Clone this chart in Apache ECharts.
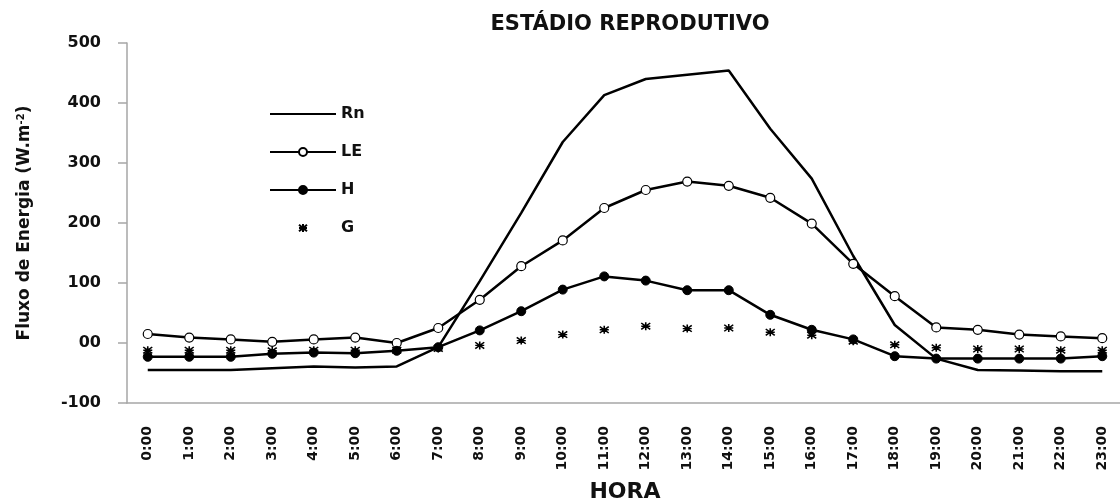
<!DOCTYPE html>
<html>
<head>
<meta charset="utf-8">
<script src="https://cdn.jsdelivr.net/npm/echarts@6/dist/echarts.min.js"></script>
<style>html,body{margin:0;padding:0;background:#fff}#c{width:1120px;height:503px}</style>
</head>
<body>
<div id="c"></div>
<script>
var hours = ['0:00','1:00','2:00','3:00','4:00','5:00','6:00','7:00','8:00','9:00','10:00','11:00','12:00','13:00','14:00','15:00','16:00','17:00','18:00','19:00','20:00','21:00','22:00','23:00'];
var Rn = [-45,-45,-45,-42,-39,-41,-39,-7,103,217,335,413,440,447,454,357,274,145,30,-26,-45,-46,-47,-47];
var LE = [15,9,6,2,6,9,0,25,72,128,171,225,255,269,262,242,199,132,78,26,22,14,11,8];
var H = [-23,-23,-23,-18,-16,-17,-13,-7,21,53,89,111,104,88,88,47,22,6,-22,-26,-26,-26,-26,-22];
var G = [-12,-12,-12,-13,-12,-12,-12,-9,-4,4,14,22,28,24,25,18,13,3,-3,-8,-10,-10,-12,-12];
var yTicks = {'500':'500','400':'400','300':'300','200':'200','100':'100','0':'00','-100':'-100'};

var FONT = 'DejaVu Sans';
var star = 'path://M0,-5L0,5M-5,-4L5,4M-5,4L5,-4M-5,0L5,0';
var chart = echarts.init(document.getElementById('c'));
chart.setOption({
  animation: false,
  backgroundColor: '#fff',
  textStyle: {fontFamily: FONT},
  title: {
    text: 'ESTÁDIO REPRODUTIVO',
    left: 625, textAlign: 'center', top: 9,
    textStyle: {fontFamily: FONT, fontWeight: 'bold', fontSize: 21, color: '#111'}
  },
  legend: {
    orient: 'vertical', left: 264, top: 101,
    itemWidth: 66, itemHeight: 10, itemGap: 22,
    textStyle: {fontFamily: FONT, fontWeight: 'bold', fontSize: 16, color: '#111'},
    data: [{name: 'Rn', itemStyle: {opacity: 0}}, 'LE', 'H', 'G']
  },
  grid: {left: 127, right: -3, top: 43, bottom: 100, outerBoundsMode: 'none', containLabel: false},
  xAxis: {
    type: 'category', data: hours, boundaryGap: true,
    name: 'HORA', nameLocation: 'middle', nameGap: 78,
    nameTextStyle: {fontFamily: FONT, fontWeight: 'bold', fontSize: 22, color: '#111'},
    axisLine: {onZero: false, lineStyle: {color: '#a6a6a6', width: 1.5}},
    axisTick: {length: 8, alignWithLabel: false, lineStyle: {color: '#a6a6a6', width: 1.5}},
    axisLabel: {rotate: 90, margin: 23, fontFamily: FONT, fontWeight: 'bold', fontSize: 14, color: '#111', interval: 0}
  },
  yAxis: {
    type: 'value', min: -100, max: 500, interval: 100,
    name: '{a|Fluxo de Energia (W.m}{s|-2}{a|)}', nameLocation: 'middle', nameGap: 93,
    nameTextStyle: {rich: {
      a: {fontFamily: FONT, fontWeight: 'bold', fontSize: 17, color: '#111'},
      s: {fontFamily: FONT, fontWeight: 'bold', fontSize: 10, color: '#111', verticalAlign: 'top', padding: [0,0,8,0]}
    }},
    splitLine: {show: false},
    axisLine: {show: true, lineStyle: {color: '#a6a6a6', width: 1.5}},
    axisTick: {show: true, length: 9, lineStyle: {color: '#a6a6a6', width: 1.5}},
    axisLabel: {margin: 26, fontFamily: FONT, fontWeight: 'bold', fontSize: 16, color: '#111',
      formatter: function (v) { return yTicks[String(v)]; }}
  },
  series: [
    {name: 'Rn', type: 'line', data: Rn, symbol: 'none', lineStyle: {color: '#000', width: 2.5}, itemStyle: {color: '#000'}},
    {name: 'LE', type: 'line', data: LE, symbol: 'circle', symbolSize: 9, lineStyle: {color: '#000', width: 2.5},
      itemStyle: {color: '#fff', borderColor: '#000', borderWidth: 1.2}},
    {name: 'H', type: 'line', data: H, symbol: 'circle', symbolSize: 9, lineStyle: {color: '#000', width: 2.5},
      itemStyle: {color: '#000', borderColor: '#000', borderWidth: 1}},
    {name: 'G', type: 'line', data: G, symbol: star, symbolSize: [9, 8], lineStyle: {width: 0, opacity: 0},
      itemStyle: {color: 'rgba(0,0,0,0)', borderColor: '#000', borderWidth: 1.5}}
  ]
});
</script>
</body>
</html>
